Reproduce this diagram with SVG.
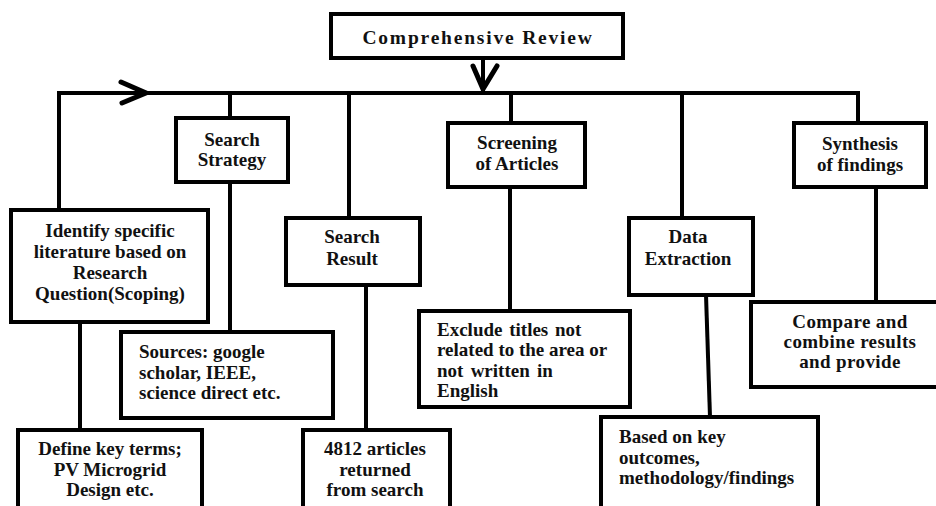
<svg xmlns="http://www.w3.org/2000/svg" width="936" height="506" viewBox="0 0 936 506">
<style>
.box{fill:#fff;stroke:#000;stroke-width:4}
.ln{fill:none;stroke:#000;stroke-width:4;stroke-linecap:square}
.chev{fill:none;stroke:#000;stroke-width:5;stroke-linecap:round;stroke-linejoin:miter}
.t{font-family:"Liberation Serif","Times New Roman",serif;font-weight:bold;font-size:19px;fill:#111}
.c{text-anchor:middle}
</style>
<rect width="936" height="506" fill="#fff"/>
<g id="connectors">
<path class="ln" d="M59 210 V93 H858 V123"/>
<path class="ln" d="M483 58 V93"/>
<path class="chev" d="M473 66 L483 89 L497 66"/>
<path class="chev" d="M121 82 L146 93 L122 103"/>
<path class="ln" d="M230 93 V118"/>
<path class="ln" d="M230 182 V332"/>
<path class="ln" d="M349 97 V218"/>
<path class="ln" d="M366 285 V429"/>
<path class="ln" d="M511 93 V123"/>
<path class="ln" d="M510 187 V310"/>
<path class="ln" d="M682 93 V218"/>
<path class="ln" d="M706 295 L710 417"/>
<path class="ln" d="M876 187 V302"/>
<path class="ln" d="M80 322 V429"/>
</g>
<g id="comprehensive-review">
<rect class="box" x="331" y="14" width="292" height="44"/>
<text class="t c" x="478" y="44" style="font-size:19.5px;letter-spacing:1.8px">Comprehensive Review</text>
</g>
<g id="identify">
<rect class="box" x="11" y="210" width="197" height="112"/>
<text class="t c" x="110" y="237">Identify specific</text>
<text class="t c" x="110" y="258">literature based on</text>
<text class="t c" x="110" y="279">Research</text>
<text class="t c" x="110" y="300">Question(Scoping)</text>
</g>
<g id="search-strategy">
<rect class="box" x="176" y="118" width="112" height="64"/>
<text class="t c" x="232" y="146">Search</text>
<text class="t c" x="232" y="166">Strategy</text>
</g>
<g id="search-result">
<rect class="box" x="286" y="218" width="134" height="67"/>
<text class="t c" x="352" y="243">Search</text>
<text class="t c" x="352" y="265">Result</text>
</g>
<g id="screening">
<rect class="box" x="448" y="123" width="137" height="64"/>
<text class="t c" x="517" y="149">Screening</text>
<text class="t c" x="517" y="170">of Articles</text>
</g>
<g id="data-extraction">
<rect class="box" x="629" y="218" width="124" height="77"/>
<text class="t c" x="688" y="243">Data</text>
<text class="t c" x="688" y="265">Extraction</text>
</g>
<g id="synthesis">
<rect class="box" x="794" y="123" width="132" height="64"/>
<text class="t c" x="860" y="150">Synthesis</text>
<text class="t c" x="860" y="171">of findings</text>
</g>
<g id="sources">
<rect class="box" x="121" y="332" width="212" height="86"/>
<text class="t" x="139" y="358">Sources: google</text>
<text class="t" x="139" y="379">scholar, IEEE,</text>
<text class="t" x="139" y="399">science direct etc.</text>
</g>
<g id="exclude">
<rect class="box" x="419" y="311" width="211" height="96"/>
<text class="t" x="437" y="336" style="word-spacing:2px">Exclude titles not</text>
<text class="t" x="437" y="356">related to the area or</text>
<text class="t" x="437" y="377" style="word-spacing:2.5px">not written in</text>
<text class="t" x="437" y="397">English</text>
</g>
<g id="compare">
<rect class="box" x="751" y="302" width="200" height="85"/>
<text class="t c" x="850" y="328" style="letter-spacing:0.4px">Compare and</text>
<text class="t c" x="850" y="348" style="letter-spacing:0.4px">combine results</text>
<text class="t c" x="850" y="368" style="letter-spacing:0.4px">and provide</text>
</g>
<g id="define">
<rect class="box" x="18" y="430" width="184" height="90"/>
<text class="t c" x="110" y="455">Define key terms;</text>
<text class="t c" x="110" y="476">PV Microgrid</text>
<text class="t c" x="110" y="496">Design etc.</text>
</g>
<g id="articles">
<rect class="box" x="303" y="430" width="147" height="90"/>
<text class="t c" x="375" y="455">4812 articles</text>
<text class="t c" x="375" y="476">returned</text>
<text class="t c" x="375" y="496">from search</text>
</g>
<g id="based-on">
<rect class="box" x="601" y="417" width="217" height="100"/>
<text class="t" x="619" y="443">Based on key</text>
<text class="t" x="619" y="464">outcomes,</text>
<text class="t" x="619" y="484">methodology/findings</text>
</g>
</svg>
